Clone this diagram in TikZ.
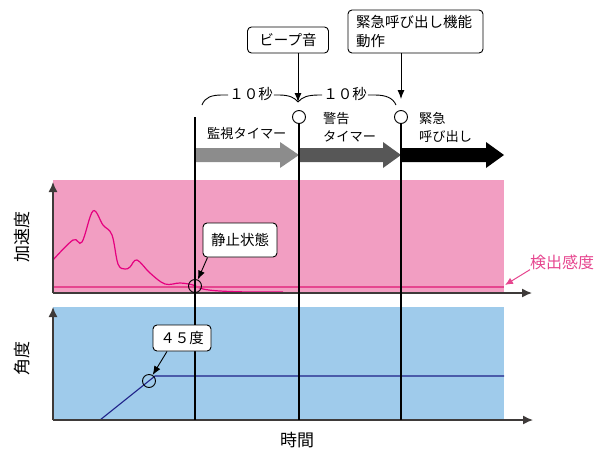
\documentclass[tikz,border=0pt]{standalone}
\usepackage{fontspec}
\setmainfont{Noto Sans CJK JP}
\usepackage{xcolor}
\usetikzlibrary{arrows.meta,positioning}
\definecolor{accelpink}{HTML}{F29EC2}
\definecolor{anglblue}{HTML}{9FCBEB}
\definecolor{curvepink}{HTML}{E5007F}
\definecolor{limitpink}{HTML}{E6468F}
\definecolor{anglenavy}{HTML}{1D2088}
\definecolor{axisgray}{HTML}{3E3A39}
\definecolor{watchgray}{HTML}{8C8C8C}
\definecolor{warngray}{HTML}{575757}
\tikzset{
  calloutbox/.style={
    draw=black,
    fill=white,
    rounded corners=4pt,
    line width=0.9pt,
    inner sep=3pt,
    font=\fontsize{14.5}{19}\selectfont
  },
  timerlabel/.style={
    align=left,
    inner sep=0pt,
    font=\fontsize{13.2}{18}\selectfont
  },
  axislabel/.style={rotate=90, inner sep=0pt, font=\fontsize{17}{20}\selectfont},
  bracelabel/.style={inner sep=1pt, font=\fontsize{14.5}{16}\selectfont},
  markcircle/.style={draw=black, circle, line width=0.9pt, minimum size=13pt, inner sep=0pt},
  plotaxis/.style={draw=axisgray, line width=1.4pt, -{Latex[length=10pt,width=9pt]}},
  timeline/.style={draw=black, line width=1.2pt},
  braceline/.style={draw=black, line width=0.9pt},
  calloutarrow/.style={draw=black, line width=0.9pt, -{Latex[length=9pt,width=7pt]}}
}
\begin{document}
\begin{tikzpicture}[x=1pt, y=-1pt]
\useasboundingbox (0,0) rectangle (595,456);

% panels
\fill[accelpink] (53,180) rectangle (504,292);
\fill[anglblue] (53,307) rectangle (504,420);

% acceleration trace and detection level
\draw[curvepink, line width=1.2pt] plot[smooth, tension=0.6] coordinates {
  (53,260) (73,240) (82,242) (93,211) (103,225) (112,235) (118,264) (125,269)
  (130,267) (137,260) (150,273) (165,284) (180,283) (193,285) (203,289)
  (220,291) (250,292) (283,292)};
\draw[limitpink, line width=2.6pt] (53,287) -- (504,287);

% angle trace
\draw[anglenavy, line width=1.1pt] (53,420) -- (100,420) -- (155,376) -- (504,376);

% axes
\coordinate (accelorigin) at (53,293);
\coordinate (angleorigin) at (53,420);
\draw[plotaxis] (accelorigin) -- (53,182);
\draw[plotaxis] (accelorigin) -- (532,293);
\draw[plotaxis] (angleorigin) -- (53,307);
\draw[plotaxis] (angleorigin) -- (533,420);

\node[axislabel] (accel) at (22,237) {加速度};
\node[axislabel] (angle) at (22,358) {角度};
\node[font=\fontsize{17}{20}\selectfont, inner sep=0pt] (time) at (297,440) {時間};

% timer phases
\fill[watchgray] (195,148) -- (280,148) -- (280,142) -- (299,155) -- (280,168) -- (280,162) -- (195,162) -- cycle;
\fill[warngray] (299,148) -- (383,148) -- (383,142) -- (401,155) -- (383,168) -- (383,162) -- (299,162) -- cycle;
\fill[black] (401,148) -- (486,148) -- (486,142) -- (504,155) -- (486,168) -- (486,162) -- (401,162) -- cycle;

\node[timerlabel, anchor=west] (watch) at (207,133) {監視タイマー};
\node[timerlabel, anchor=west] (warn) at (323,127) {警告\\タイマー};
\node[timerlabel, anchor=west] (emerg) at (419,127) {緊急\\呼び出し};

% event markers
\node[markcircle] (beepmark) at (299,117) {};
\node[markcircle] (callmark) at (401,117) {};
\node[markcircle] (stillmark) at (195,286) {};
\node[markcircle] (anglemark) at (149,381) {};

\coordinate (starttop) at (195,117);
\coordinate (startbot) at (195,420);
\coordinate (beepbot) at (299,420);
\coordinate (callbot) at (401,420);
\draw[timeline] (starttop) -- (startbot);
\draw[timeline] (beepmark.south) -- (beepbot);
\draw[timeline] (callmark.south) -- (callbot);

% ten second braces
\coordinate (meetbeep) at (298,102);
\coordinate (meetcall) at (401,99);
\node[bracelabel] (firstsec) at (251,94) {１０秒};
\node[bracelabel] (secondsec) at (345,94) {１０秒};
\draw[braceline] (202,105) .. controls (205,97) and (212,95) .. (222,95) -- (firstsec.west |- 0,95);
\draw[braceline] (firstsec.east |- 0,95) -- (279,95) .. controls (290,95) and (295,98) .. (meetbeep);
\draw[braceline] (meetbeep) .. controls (302,97) and (308,95) .. (319,95) -- (secondsec.west |- 0,95);
\draw[braceline] (secondsec.east |- 0,95) -- (375,95) .. controls (386,95) and (393,98) .. (396,105);

% callouts
\node[calloutbox, minimum width=81pt, minimum height=26pt] (beep) at (288,40) {ビープ音};
\node[calloutbox, minimum width=135pt, minimum height=43pt, align=left, text width=119pt] (call) at (415.5,31.5) {緊急呼び出し機能\\動作};
\node[calloutbox, minimum width=74pt, minimum height=34pt] (still) at (240,240) {静止状態};
\node[calloutbox, minimum width=58pt, minimum height=26pt] (deg) at (182,338) {４５度};

\draw[calloutarrow] (beep.south -| meetbeep) -- (meetbeep);
\draw[calloutarrow] (call.south -| meetcall) -- (meetcall);
\draw[calloutarrow] ([xshift=5pt]still.south west) -- (stillmark);
\draw[calloutarrow] ([xshift=-15pt]deg.south) -- (anglemark);

% detection level label
\node[text=limitpink, font=\fontsize{16}{18}\selectfont, inner sep=0pt, anchor=west] (level) at (530,262) {検出感度};
\coordinate (levelend) at (505,285);
\draw[draw=limitpink, line width=1pt, -{Latex[length=8pt,width=7pt]}] (level.south west) -- (levelend);
\end{tikzpicture}
\end{document}
